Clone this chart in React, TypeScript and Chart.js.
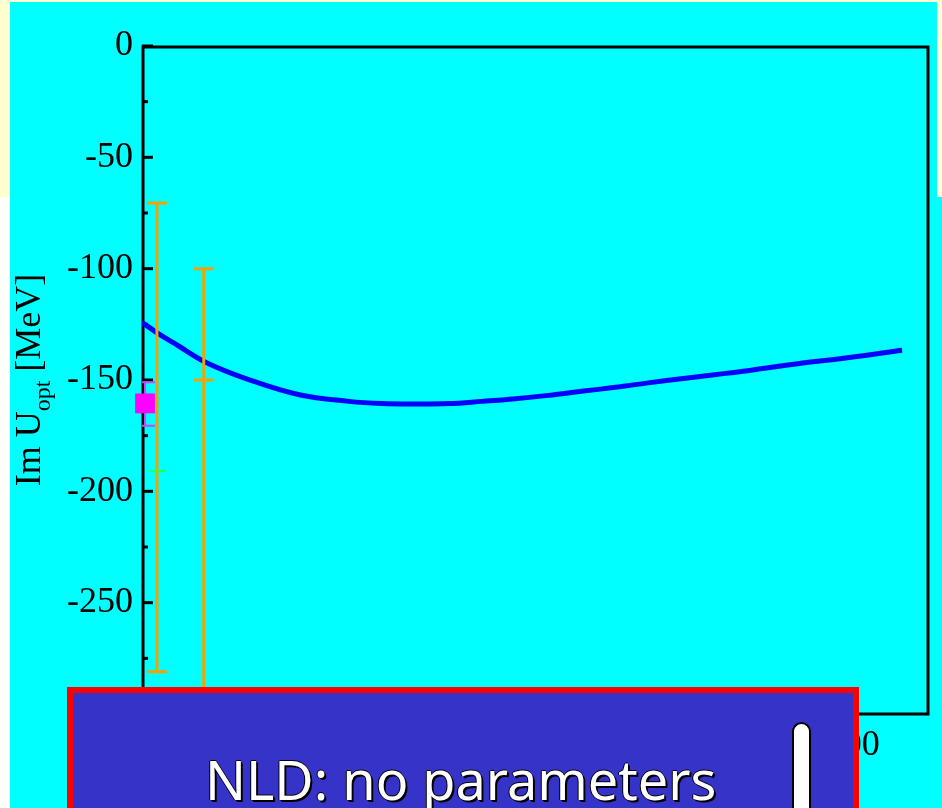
import React, { useEffect, useRef } from "react";
import { Chart, registerables } from "chart.js";

Chart.register(...registerables);

// ---- data ----
const curveT = [0, 21, 51, 92, 153, 224, 295, 342, 390, 437, 484, 532, 579, 626, 674, 721, 768, 816, 863, 934, 1005, 1083];
const curveIm = [-124.1, -128.7, -134.5, -142.2, -149.9, -156.6, -159.6, -160.6, -160.8, -160.6, -159.6, -158.4, -156.9, -155.1, -153.3, -151.3, -149.4, -147.6, -145.8, -142.7, -140, -136.6];

const magentaT = [4.3];
const magentaIm = [-160.5];
const magentaHi = [-151];
const magentaLo = [-170.5];

const orangeT = [21.3, 88];
const orangeHi = [-70.5, -100];
const orangeLo = [-281, -300];
const orangeMid: (number | null)[] = [null, -150];

const greenT = [23];
const greenIm = [-191];

const xMin = 0;
const xMax = 1120;
const xStep = 200;
const yMin = -300;
const yMax = 0;
const yStep = 50;
const yMinorStep = 25;

const yTitleMain = "Im U";
const yTitleSub = "opt";
const yTitleUnit = " [MeV]";
const boxText = "NLD: no parameters";

const SERIF = "'Liberation Serif', 'Times New Roman', serif";

const decorPlugin = {
  id: "decor",
  beforeDatasetsDraw(chart: any) {
    const { ctx, chartArea: a, scales } = chart;
    const xs = scales.x;
    const ys = scales.y;
    ctx.save();
    ctx.strokeStyle = "#000";
    ctx.lineWidth = 3;
    ctx.strokeRect(a.left + 1, a.top + 1, a.right - a.left - 1, a.bottom - a.top - 1);
    for (let v = yMin; v <= yMax; v += yMinorStep) {
      const py = ys.getPixelForValue(v);
      const major = v % yStep === 0;
      ctx.beginPath();
      ctx.moveTo(a.left, py);
      ctx.lineTo(a.left + (major ? 11 : 6), py);
      ctx.stroke();
    }
    for (let v = xMin; v <= xMax; v += xStep) {
      const px = xs.getPixelForValue(v);
      ctx.beginPath();
      ctx.moveTo(px, a.bottom);
      ctx.lineTo(px, a.bottom - 11);
      ctx.stroke();
    }
    ctx.beginPath();
    ctx.rect(a.left, a.top, a.right - a.left, a.bottom - a.top);
    ctx.clip();
    ctx.strokeStyle = "#CC44FF";
    ctx.lineWidth = 2;
    for (let i = 0; i < magentaT.length; i++) {
      const px = xs.getPixelForValue(magentaT[i]);
      const hi = ys.getPixelForValue(magentaHi[i]);
      const lo = ys.getPixelForValue(magentaLo[i]);
      ctx.beginPath();
      ctx.moveTo(px, hi);
      ctx.lineTo(px, lo);
      ctx.moveTo(px - 10, hi);
      ctx.lineTo(px + 10, hi);
      ctx.moveTo(px - 10, lo);
      ctx.lineTo(px + 10, lo);
      ctx.stroke();
    }
    ctx.restore();
  },
  afterDatasetsDraw(chart: any) {
    const { ctx, chartArea: a, scales } = chart;
    const xs = scales.x;
    const ys = scales.y;
    ctx.save();
    ctx.beginPath();
    ctx.rect(a.left, a.top, a.right - a.left, a.bottom - a.top);
    ctx.clip();
    ctx.strokeStyle = "#F5A200";
    ctx.lineWidth = 3;
    for (let i = 0; i < orangeT.length; i++) {
      const px = xs.getPixelForValue(orangeT[i]);
      const hi = ys.getPixelForValue(orangeHi[i]);
      const lo = ys.getPixelForValue(orangeLo[i]);
      ctx.beginPath();
      ctx.moveTo(px, hi);
      ctx.lineTo(px, lo);
      ctx.moveTo(px - 10, hi);
      ctx.lineTo(px + 10, hi);
      ctx.moveTo(px - 10, lo);
      ctx.lineTo(px + 10, lo);
      const m = orangeMid[i];
      if (m !== null) {
        const pm = ys.getPixelForValue(m);
        ctx.moveTo(px - 10, pm);
        ctx.lineTo(px + 10, pm);
      }
      ctx.stroke();
    }
    ctx.strokeStyle = "#33FF33";
    ctx.lineWidth = 2;
    for (let i = 0; i < greenT.length; i++) {
      const px = xs.getPixelForValue(greenT[i]);
      const py = ys.getPixelForValue(greenIm[i]);
      ctx.beginPath();
      ctx.moveTo(px - 8, py);
      ctx.lineTo(px + 8, py);
      ctx.stroke();
    }
    ctx.restore();
  },
  afterDraw(chart: any) {
    const { ctx, chartArea: a } = chart;
    const cy = (a.top + a.bottom) / 2;
    ctx.save();
    ctx.translate(40, cy);
    ctx.rotate(-Math.PI / 2);
    ctx.fillStyle = "#000";
    ctx.textBaseline = "alphabetic";
    const mainFont = `36px ${SERIF}`;
    const subFont = `24px ${SERIF}`;
    ctx.font = mainFont;
    const w1 = ctx.measureText(yTitleMain).width;
    const w3 = ctx.measureText(yTitleUnit).width;
    ctx.font = subFont;
    const w2 = ctx.measureText(yTitleSub).width;
    let x = -(w1 + w2 + w3) / 2;
    ctx.font = mainFont;
    ctx.fillText(yTitleMain, x, 0);
    x += w1;
    ctx.font = subFont;
    ctx.fillText(yTitleSub, x, 10);
    x += w2;
    ctx.font = mainFont;
    ctx.fillText(yTitleUnit, x, 0);
    ctx.restore();
  },
};

export default function App() {
  const ref = useRef<HTMLCanvasElement>(null);
  useEffect(() => {
    document.body.style.margin = "0";
    const chart = new Chart(ref.current as HTMLCanvasElement, {
      type: "scatter",
      data: {
        datasets: [
          {
            type: "line",
            label: "NLD",
            data: curveT.map((t, i) => ({ x: t, y: curveIm[i] })),
            borderColor: "#0000FF",
            borderWidth: 5,
            pointRadius: 0,
            tension: 0.4,
            fill: false,
          } as any,
          {
            label: "exp",
            data: magentaT.map((t, i) => ({ x: t, y: magentaIm[i] })),
            pointStyle: "rect",
            pointRadius: 14,
            backgroundColor: "#FF00FF",
            borderWidth: 0,
            clip: false,
          } as any,
        ],
      },
      options: {
        animation: false,
        responsive: false,
        devicePixelRatio: 1,
        layout: { padding: { left: 0, top: 46, right: 11, bottom: 0 } },
        plugins: { legend: { display: false }, tooltip: { enabled: false } },
        scales: {
          x: {
            type: "linear",
            min: xMin,
            max: xMax,
            grid: { display: false, drawTicks: false },
            border: { display: false },
            ticks: {
              stepSize: xStep,
              includeBounds: false,
              autoSkip: false,
              maxRotation: 0,
              padding: 10,
              color: "#000",
              font: { family: SERIF, size: 36 },
              callback: (v: any) => (Number(v) % xStep === 0 ? String(v) : ""),
            },
            afterFit: (s: any) => {
              s.height = 94;
            },
          },
          y: {
            type: "linear",
            min: yMin,
            max: yMax,
            grid: { display: false, drawTicks: false },
            border: { display: false },
            ticks: {
              stepSize: yStep,
              padding: 9,
              color: "#000",
              font: { family: SERIF, size: 36 },
              callback: (v: any) => String(v),
            },
            afterFit: (s: any) => {
              s.width = 142;
            },
          },
        },
      },
      plugins: [decorPlugin],
    } as any);
    return () => chart.destroy();
  }, []);

  return (
    <div style={{ position: "relative", width: 942, height: 808, overflow: "hidden", background: "#FFFFFF" }}>
      <div style={{ position: "absolute", left: 0, top: 0, width: 942, height: 197, background: "#FFFFD0" }} />
      <div style={{ position: "absolute", left: 10, top: 2, width: 927, height: 806, background: "#00FFFF" }} />
      <div style={{ position: "absolute", left: 937, top: 197, width: 5, height: 611, background: "#00FFFF" }} />
      <canvas ref={ref} width={942} height={808} style={{ position: "absolute", left: 0, top: 0, width: 942, height: 808 }} />
      <div
        style={{
          position: "absolute",
          left: 67,
          top: 687,
          width: 792,
          height: 140,
          boxSizing: "border-box",
          border: "6px solid #FF0000",
          background: "#3634C8",
        }}
      />
      <div
        style={{
          position: "absolute",
          left: 205,
          top: 752,
          fontFamily: "'Noto Sans', 'DejaVu Sans', sans-serif",
          fontSize: 54,
          lineHeight: 1,
          color: "#FFFFFF",
          whiteSpace: "nowrap",
          textShadow: "2px 2px 0 #000, 1px 1px 0 #000, -1px 0 0 #000, 0 -1px 0 #000",
        }}
      >
        {boxText}
      </div>
      <div
        style={{
          position: "absolute",
          left: 792,
          top: 722,
          width: 19,
          height: 120,
          boxSizing: "border-box",
          background: "#FFFFFF",
          border: "2px solid #000",
          borderRadius: "10px 10px 0 0",
        }}
      />
    </div>
  );
}
